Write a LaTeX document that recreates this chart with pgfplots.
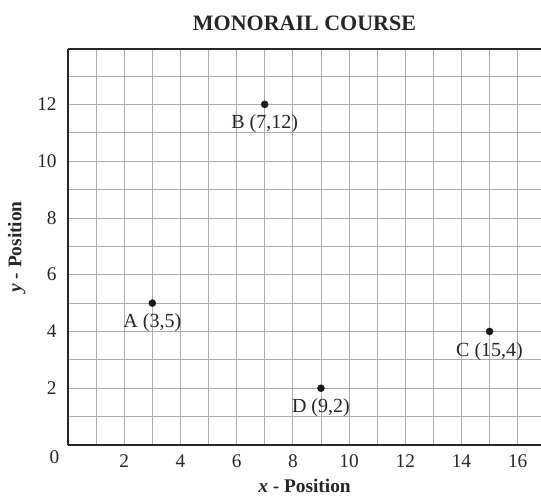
\documentclass[border=0pt]{standalone}
\usepackage{pgfplots}
\pgfplotsset{compat=1.18}
\usepackage{fontspec}
\setmainfont{Liberation Serif}

\begin{document}
\begin{tikzpicture}
\begin{axis}[
    scale only axis,
    width=354.75pt, height=297pt,
    xmin=0, xmax=16.83, ymin=0, ymax=13.95,
    axis x line*=box, axis y line*=left,
    axis line style={line width=1.1pt, black!85},
    xtick={2,4,...,16}, ytick={2,4,...,12},
    minor xtick={1,...,16}, minor ytick={1,...,13},
    grid=both,
    major grid style={gray!65, line width=0.6pt},
    minor grid style={gray!65, line width=0.6pt},
    major tick length=0pt, minor tick length=0pt,
    /pgf/number format/assume math mode=true,
    ticklabel style={font=\fontsize{14.5}{16}\selectfont, text=black!85},
    xticklabel style={yshift=-4pt},
    yticklabel style={xshift=-5pt},
    title={\textbf{MONORAIL COURSE}},
    title style={font=\fontsize{16.5}{18}\selectfont, text=black!85, yshift=4.5pt},
    xlabel={\textbf{\textit{x} - Position}},
    ylabel={\textbf{\textit{y} - Position}},
    label style={font=\fontsize{14.5}{16}\selectfont, text=black!85},
    xlabel style={yshift=-1pt},
    ylabel style={yshift=2pt},
    clip=false,
]
\addplot[only marks, mark=*, mark size=2.6pt, black!90,
    nodes near coords, point meta=explicit symbolic,
    every node near coord/.style={anchor=north, yshift=-4.5pt,
        font=\fontsize{15}{17}\selectfont, text=black!85}]
    table[meta=lab] {
x y lab
3 5 {A (3,5)}
7 12 {B (7,12)}
15 4 {C (15,4)}
9 2 {D (9,2)}
};
\node[font=\fontsize{14.5}{16}\selectfont, text=black!85, anchor=north east]
    at (rel axis cs:0,0) [xshift=-3pt, yshift=-1pt] {0};
\coordinate (sw) at (rel axis cs:0,0);
\coordinate (ne) at (rel axis cs:1,1);
\end{axis}
\pgfresetboundingbox
\path ([xshift=-51pt,yshift=-41.25pt]sw) rectangle ([yshift=36.75pt]ne);
\end{tikzpicture}
\end{document}
